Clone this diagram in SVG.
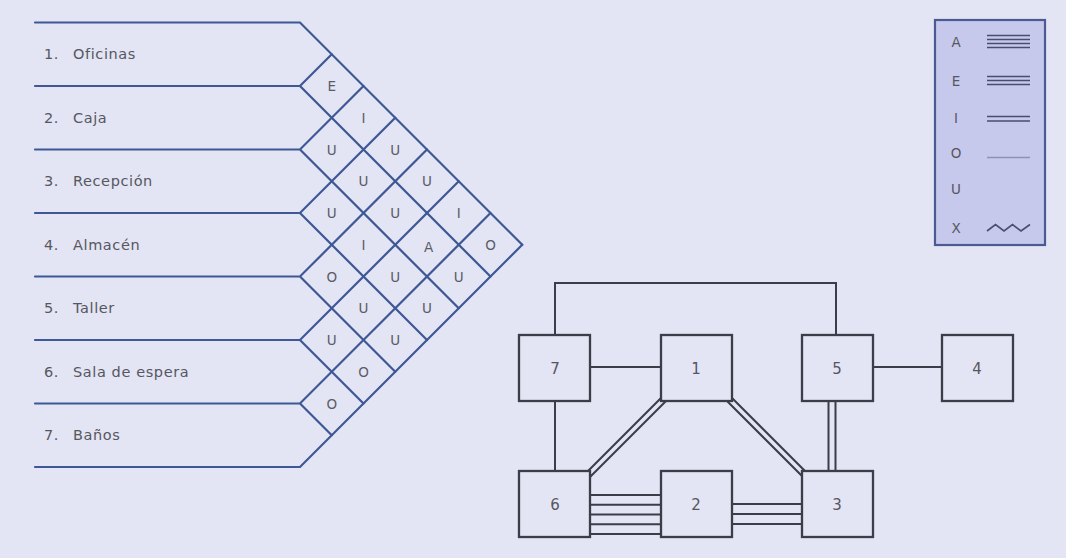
<svg xmlns="http://www.w3.org/2000/svg" width="1066" height="558" viewBox="0 0 1066 558">
  <style>
    .bg { fill: #e3e4f4; }
    .grid { fill: none; stroke: #3d5894; stroke-width: 2.2; stroke-linecap: round; }
    .dept { font-family: "DejaVu Sans", "Liberation Sans", sans-serif; font-size: 14.5px; letter-spacing: 0.6px; fill: #55575f; }
    .cell { font-family: "DejaVu Sans", "Liberation Sans", sans-serif; font-size: 13.5px; fill: #5a5c66; text-anchor: middle; }
    .legend-box { fill: #c6c9ec; stroke: #4b5a92; stroke-width: 2.2; }
    .legend-key { font-family: "DejaVu Sans", "Liberation Sans", sans-serif; font-size: 13.5px; fill: #55575f; text-anchor: middle; }
    .legend-line { fill: none; stroke: #4a4e6c; stroke-width: 1.6; }
    .box { fill: #e3e4f4; stroke: #3b3d48; stroke-width: 2.3; }
    .box-label { font-family: "DejaVu Sans", "Liberation Sans", sans-serif; font-size: 15px; fill: #55575f; text-anchor: middle; }
    .link { fill: none; stroke: #3b3d48; stroke-width: 2; }
  </style>

  <rect class="bg" x="0" y="0" width="1066" height="558"/>

  <!-- Relationship chart: row rules and diamond grid -->
  <g id="chart-grid" class="grid">
    <path d="M35,22.5 H300 L522.25,244.75"/>
    <path d="M35,86 H300 L331.75,54.25 M300,86 L490.5,276.5"/>
    <path d="M35,149.5 H300 L363.5,86 M300,149.5 L458.75,308.25"/>
    <path d="M35,213 H300 L395.25,117.75 M300,213 L427,340"/>
    <path d="M35,276.5 H300 L427,149.5 M300,276.5 L395.25,371.75"/>
    <path d="M35,340 H300 L458.75,181.25 M300,340 L363.5,403.5"/>
    <path d="M35,403.5 H300 L490.5,213 M300,403.5 L331.75,435.25"/>
    <path d="M35,467 H300 L522.25,244.75"/>
  </g>

  <!-- Department names -->
  <g id="departments">
    <text class="dept" x="44" y="59"><tspan>1. </tspan><tspan x="73">Oficinas</tspan></text>
    <text class="dept" x="44" y="122.5"><tspan>2. </tspan><tspan x="73">Caja</tspan></text>
    <text class="dept" x="44" y="186"><tspan>3. </tspan><tspan x="73">Recepción</tspan></text>
    <text class="dept" x="44" y="249.5"><tspan>4. </tspan><tspan x="73">Almacén</tspan></text>
    <text class="dept" x="44" y="313"><tspan>5. </tspan><tspan x="73">Taller</tspan></text>
    <text class="dept" x="44" y="376.5"><tspan>6. </tspan><tspan x="73">Sala de espera</tspan></text>
    <text class="dept" x="44" y="440"><tspan>7. </tspan><tspan x="73">Baños</tspan></text>
  </g>

  <!-- Closeness ratings in the diamond cells -->
  <g id="ratings">
    <text class="cell" x="331.75" y="91">E</text>
    <text class="cell" x="331.75" y="154.5">U</text>
    <text class="cell" x="331.75" y="218">U</text>
    <text class="cell" x="331.75" y="281.5">O</text>
    <text class="cell" x="331.75" y="345">U</text>
    <text class="cell" x="331.75" y="408.5">O</text>

    <text class="cell" x="363.5" y="122.75">I</text>
    <text class="cell" x="363.5" y="186.25">U</text>
    <text class="cell" x="363.5" y="249.75">I</text>
    <text class="cell" x="363.5" y="313.25">U</text>
    <text class="cell" x="363.5" y="376.75">O</text>

    <text class="cell" x="395.25" y="154.5">U</text>
    <text class="cell" x="395.25" y="218">U</text>
    <text class="cell" x="395.25" y="281.5">U</text>
    <text class="cell" x="395.25" y="345">U</text>

    <text class="cell" x="427" y="186.25">U</text>
    <text class="cell" x="428.5" y="251.5">A</text>
    <text class="cell" x="427" y="313.25">U</text>

    <text class="cell" x="458.75" y="218">I</text>
    <text class="cell" x="458.75" y="281.5">U</text>

    <text class="cell" x="490.5" y="249.75">O</text>
  </g>

  <!-- Legend -->
  <g id="legend">
    <rect class="legend-box" x="935" y="20" width="110" height="225"/>
    <text class="legend-key" x="956" y="46.5">A</text>
    <text class="legend-key" x="956" y="85.5">E</text>
    <text class="legend-key" x="956" y="122.5">I</text>
    <text class="legend-key" x="956" y="157.5">O</text>
    <text class="legend-key" x="956" y="193.5">U</text>
    <text class="legend-key" x="956" y="232.5">X</text>
    <path class="legend-line" d="M987,35.5 H1030 M987,39.5 H1030 M987,43.5 H1030 M987,47.5 H1030"/>
    <path class="legend-line" d="M987,76.5 H1030 M987,80.5 H1030 M987,84.5 H1030"/>
    <path class="legend-line" d="M987,116.5 H1030 M987,121 H1030"/>
    <path class="legend-line" d="M987,157.5 H1030" style="stroke:#8e92b4;stroke-width:1.4"/>
    <path class="legend-line" d="M987,231 L995.5,224.5 L1004,231 L1012.5,224.5 L1021,231 L1030,224.5"/>
  </g>

  <!-- Block layout connectors -->
  <g id="connectors" class="link">
    <path d="M555,335 V283 H836 V335"/>
    <path d="M590,367 H661"/>
    <path d="M555,401 V471"/>
    <path d="M873,367 H942"/>
    <path d="M828.5,401 V471 M835.5,401 V471"/>
    <path d="M661,398 L588,471 M666,401 L590,477"/>
    <path d="M732,398 L805,471 M727,401 L802,476"/>
    <path d="M590,495 H661 M590,504.75 H661 M590,514.5 H661 M590,524.25 H661 M590,534 H661"/>
    <path d="M732,504 H802 M732,514 H802 M732,524 H802"/>
  </g>

  <!-- Block layout nodes -->
  <g id="node-7"><rect class="box" x="519" y="335" width="71" height="66"/><text class="box-label" x="555" y="373.5">7</text></g>
  <g id="node-1"><rect class="box" x="661" y="335" width="71" height="66"/><text class="box-label" x="696" y="373.5">1</text></g>
  <g id="node-5"><rect class="box" x="802" y="335" width="71" height="66"/><text class="box-label" x="837" y="373.5">5</text></g>
  <g id="node-4"><rect class="box" x="942" y="335" width="71" height="66"/><text class="box-label" x="977" y="373.5">4</text></g>
  <g id="node-6"><rect class="box" x="519" y="471" width="71" height="66"/><text class="box-label" x="555" y="509.5">6</text></g>
  <g id="node-2"><rect class="box" x="661" y="471" width="71" height="66"/><text class="box-label" x="696" y="509.5">2</text></g>
  <g id="node-3"><rect class="box" x="802" y="471" width="71" height="66"/><text class="box-label" x="837" y="509.5">3</text></g>
</svg>
